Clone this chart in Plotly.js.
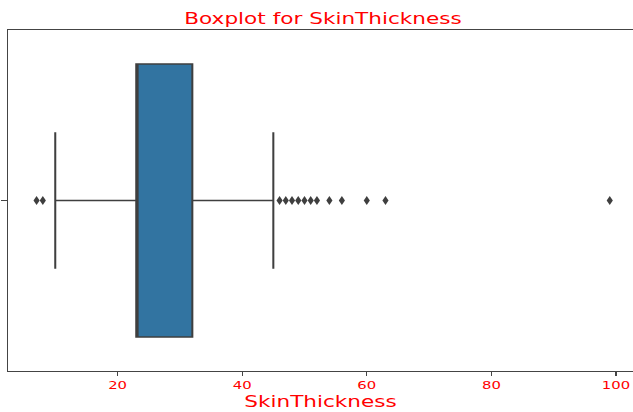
<!DOCTYPE html>
<html>
<head>
<meta charset="utf-8">
<script src="https://cdn.plot.ly/plotly-3.0.1.min.js"></script>
<style>
  html, body { margin: 0; padding: 0; background: #fff; overflow: hidden; }
  #wrap { width: 469px; height: 412px; transform: scaleX(1.3497); transform-origin: 0 0; }
  #chart { width: 469px; height: 412px; }
</style>
</head>
<body>
<div id="wrap"><div id="chart"></div></div>
<script>
// ---- data ----
const boxPosition = [0];
const q1Values = [23];
const medianValues = [23];
const q3Values = [32];
const lowerWhisker = [10];
const upperWhisker = [45];
const outlierValues = [7, 8, 46, 47, 48, 49, 50, 51, 52, 54, 56, 60, 63, 99];
const xTickValues = [20, 40, 60, 80, 100];
const xTickLabels = ['20', '40', '60', '80', '100'];

const FONT = 'DejaVu Sans, Verdana, sans-serif';
const EDGE = '#3f3f3f';

const boxTrace = {
  type: 'box',
  orientation: 'h',
  y: boxPosition,
  q1: q1Values,
  median: medianValues,
  q3: q3Values,
  lowerfence: lowerWhisker,
  upperfence: upperWhisker,
  width: 0.8,
  whiskerwidth: 0.5,
  fillcolor: '#3274a1',
  line: { color: EDGE, width: 1.5 },
  boxpoints: false,
  hoverinfo: 'skip',
  showlegend: false
};

const outlierTrace = {
  type: 'scatter',
  mode: 'markers',
  x: outlierValues,
  y: outlierValues.map(() => boxPosition[0]),
  marker: { symbol: 'diamond-tall', size: 6.5, color: EDGE, line: { width: 0 } },
  hoverinfo: 'skip',
  showlegend: false
};

const layout = {
  width: 469,
  height: 412,
  margin: { l: 6, r: 0, t: 30, b: 41, pad: 0 },
  paper_bgcolor: '#ffffff',
  plot_bgcolor: '#ffffff',
  font: { family: FONT, color: 'red' },
  title: {
    text: 'Boxplot for SkinThickness',
    font: { family: FONT, size: 16, color: 'red' },
    xref: 'container', x: 0.5103, xanchor: 'center',
    yref: 'container', y: 1 - 18.5 / 412, yanchor: 'middle'
  },
  xaxis: {
    range: [2.43, 102.73],
    tickvals: xTickValues,
    ticktext: xTickLabels,
    ticks: 'outside',
    ticklen: 4,
    tickwidth: 1,
    tickcolor: '#444',
    tickfont: { family: FONT, size: 11, color: 'red' },
    showline: true,
    linecolor: '#444',
    linewidth: 1,
    mirror: true,
    showgrid: false,
    zeroline: false,
    title: { text: 'SkinThickness', font: { family: FONT, size: 16, color: 'red' }, standoff: 4 },
    automargin: false,
    fixedrange: true
  },
  yaxis: {
    range: [-0.5, 0.5],
    tickvals: boxPosition,
    ticktext: [''],
    ticks: 'outside',
    ticklen: 4,
    tickcolor: '#444',
    showline: true,
    linecolor: '#444',
    linewidth: 1,
    showgrid: false,
    zeroline: false,
    automargin: false,
    fixedrange: true
  }
};

Plotly.newPlot('chart', [boxTrace, outlierTrace], layout, { staticPlot: true, displayModeBar: false });
</script>
</body>
</html>
